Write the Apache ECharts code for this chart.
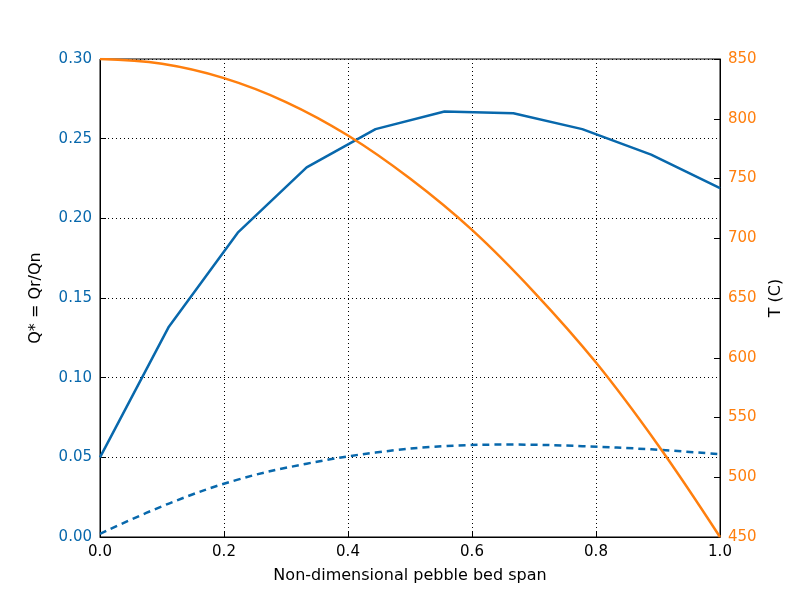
<!DOCTYPE html>
<html><head><meta charset="utf-8">
<script src="https://cdn.jsdelivr.net/npm/echarts@6/dist/echarts.min.js"></script>
<style>html,body{margin:0;padding:0;background:#fff}#c{width:800px;height:597px}</style>
</head><body><div id="c"></div>
<script>
// blue series sampled at 10 points along the span
var spanQ = [0, 0.1111, 0.2222, 0.3333, 0.4444, 0.5556, 0.6667, 0.7778, 0.8889, 1.0];
var qSolid = [0.050, 0.132, 0.191, 0.232, 0.256, 0.267, 0.266, 0.256, 0.240, 0.219];
var qDashed = [0.002, 0.021, 0.036, 0.046, 0.053, 0.057, 0.058, 0.057, 0.055, 0.052];
// temperature
var spanT = [0, 0.1, 0.2, 0.3, 0.4, 0.5, 0.6, 0.7, 0.8, 0.9, 1.0];
var temp = [850, 846, 834, 814, 786, 750, 707, 655, 596, 527, 450];

var blue = '#0868ac', orange = '#ff7f0e';
function pairs(xs, ys) { return xs.map(function (x, i) { return [x, ys[i]]; }); }
var font = 'DejaVu Sans';

var chart = echarts.init(document.getElementById('c'));
chart.setOption({
	animation: false,
	textStyle: { fontFamily: font },
	grid: { left: 100, right: 80, top: 59, bottom: 60, show: true, borderColor: '#000', borderWidth: 1 },
	xAxis: {
		type: 'value', min: 0, max: 1, interval: 0.2,
		name: 'Non-dimensional pebble bed span', nameLocation: 'middle', nameGap: 31,
		nameTextStyle: { fontSize: 16, color: '#000' },
		axisLine: { lineStyle: { color: '#000' } },
		axisTick: { inside: true, length: 6, lineStyle: { color: '#000' } },
		axisLabel: { color: '#000', fontSize: 15, formatter: function (v) { return v.toFixed(1); } },
		splitLine: { lineStyle: { color: '#000', type: [1, 3] } }
	},
	yAxis: [{
		type: 'value', min: 0, max: 0.3, interval: 0.05,
		name: 'Q* = Qr/Qn', nameLocation: 'middle', nameGap: 56, nameRotate: 90,
		nameTextStyle: { fontSize: 16, color: '#000' },
		axisLine: { show: true, lineStyle: { color: '#000' } },
		axisTick: { inside: true, length: 6, lineStyle: { color: '#000' } },
		axisLabel: { color: blue, fontSize: 15, formatter: function (v) { return v.toFixed(2); } },
		splitLine: { lineStyle: { color: '#000', type: [1, 3] } }
	}, {
		type: 'value', min: 450, max: 850, interval: 50, position: 'right',
		name: 'T (C)', nameLocation: 'middle', nameGap: 44, nameRotate: 90,
		nameTextStyle: { fontSize: 16, color: '#000' },
		axisLine: { show: true, lineStyle: { color: '#000' } },
		axisTick: { inside: true, length: 6, lineStyle: { color: '#000' } },
		axisLabel: { color: orange, fontSize: 15 },
		splitLine: { show: false }
	}],
	series: [{
		type: 'line', data: pairs(spanQ, qSolid), symbol: 'none',
		lineStyle: { color: blue, width: 2.5 }
	}, {
		type: 'line', data: pairs(spanQ, qDashed), symbol: 'none', smooth: 0.4,
		lineStyle: { color: blue, width: 2.5, type: [7, 5] }
	}, {
		type: 'line', yAxisIndex: 1, data: pairs(spanT, temp), symbol: 'none', smooth: 0.4,
		lineStyle: { color: orange, width: 2.5 }
	}]
});
</script></body></html>
